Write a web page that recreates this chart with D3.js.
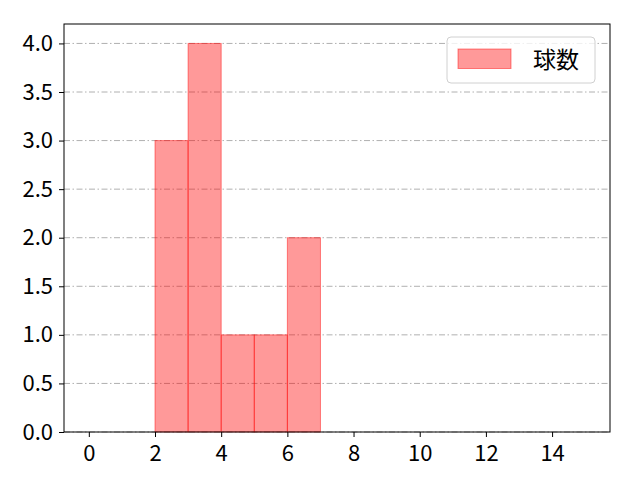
<!DOCTYPE html>
<html>
<head>
    <meta charset="utf-8">
    <title>球数</title>
    <script src="https://d3js.org/d3.v7.min.js"></script>
    <style>
        body { margin: 0; background: #fff; }
        svg text { font-family: "Noto Sans CJK JP", "Noto Sans", sans-serif; }
    </style>
</head>
<body>
    <svg width="640" height="480" id="chart"></svg>
    <script>
        // histogram bins (left edge, right edge) and counts
        const binStarts = [2, 3, 4, 5, 6]
        const binEnds = [3, 4, 5, 6, 7]
        const counts = [3, 4, 1, 1, 2]
        const xTicks = [0, 2, 4, 6, 8, 10, 12, 14]
        const yTicks = [0, 0.5, 1.0, 1.5, 2.0, 2.5, 3.0, 3.5, 4.0]
        const seriesName = "球数"

        const svg = d3.select("#chart")
        const margin = { top: 24, right: 30, bottom: 48, left: 64 }
        const width = 640, height = 480
        const innerWidth = width - margin.left - margin.right
        const innerHeight = height - margin.top - margin.bottom

        const data = binStarts.map((s, i) => ({ x0: s, x1: binEnds[i], n: counts[i] }))

        const xScale = d3.scaleLinear().domain([-0.75, 15.75]).range([0, innerWidth])
        const yScale = d3.scaleLinear().domain([0, 4.2]).range([innerHeight, 0])

        const g = svg.append("g")
            .attr("transform", `translate(${margin.left},${margin.top})`)

        // dash-dot grid on y
        g.selectAll(".grid")
            .data(yTicks)
            .enter()
            .append("line")
            .attr("x1", 0)
            .attr("x2", innerWidth)
            .attr("y1", d => yScale(d))
            .attr("y2", d => yScale(d))
            .attr("stroke", "#b0b0b0")
            .attr("stroke-width", 1)
            .attr("stroke-dasharray", "6,2.5,1.5,2.5")

        g.selectAll("rect.bar")
            .data(data)
            .enter()
            .append("rect")
            .attr("class", "bar")
            .attr("x", d => xScale(d.x0))
            .attr("y", d => yScale(d.n))
            .attr("width", d => xScale(d.x1) - xScale(d.x0))
            .attr("height", d => innerHeight - yScale(d.n))
            .attr("fill", "#ff0000")
            .attr("fill-opacity", 0.4)
            .attr("stroke", "#ff0000")
            .attr("stroke-opacity", 0.45)
            .attr("stroke-width", 1)

        const xAxis = d3.axisBottom(xScale).tickValues(xTicks).tickSize(5).tickPadding(8)
        const yAxis = d3.axisLeft(yScale).tickValues(yTicks).tickFormat(d3.format(".1f")).tickSize(5).tickPadding(6)

        const gx = g.append("g").attr("transform", `translate(0,${innerHeight})`).call(xAxis)
        const gy = g.append("g").call(yAxis)
        gx.select(".domain").remove()
        gy.select(".domain").remove()
        ;[gx, gy].forEach(a => {
            a.attr("font-size", 22).attr("font-family", null)
            a.selectAll("text")
                .attr("font-size", 22)
                .style("font-size", "22px")
                .style("fill", "#000")
            a.selectAll("line").attr("stroke", "#000")
        })

        // frame
        g.append("rect")
            .attr("width", innerWidth)
            .attr("height", innerHeight)
            .attr("fill", "none")
            .attr("stroke", "#000")
            .attr("stroke-width", 1)

        // legend
        const lg = g.append("g").attr("transform", `translate(${innerWidth - 163},13)`)
        lg.append("rect")
            .attr("width", 148)
            .attr("height", 46)
            .attr("rx", 4)
            .attr("fill", "#fff")
            .attr("fill-opacity", 0.8)
            .attr("stroke", "#d0d0d0")
        lg.append("rect")
            .attr("x", 11)
            .attr("y", 12)
            .attr("width", 53)
            .attr("height", 19.5)
            .attr("fill", "#ff0000")
            .attr("fill-opacity", 0.4)
            .attr("stroke", "#ff0000")
            .attr("stroke-opacity", 0.45)
        lg.append("text")
            .attr("x", 86)
            .attr("y", 31)
            .style("font-size", "23px")
            .text(seriesName)
    </script>
</body>
</html>
